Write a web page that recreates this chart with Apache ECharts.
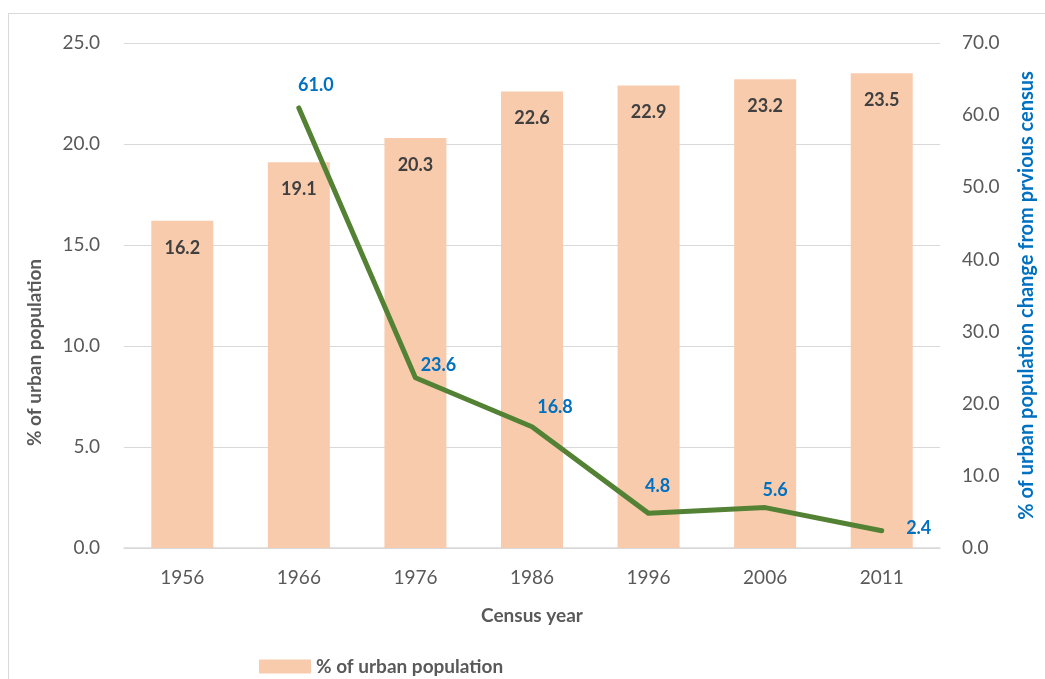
<!DOCTYPE html>
<html>
<head>
<meta charset="utf-8">
<script src="https://cdn.jsdelivr.net/npm/echarts@6/dist/echarts.min.js"></script>
<style>
  html, body { margin: 0; padding: 0; background: #fff; }
  #frame { position: absolute; left: 8px; top: 13px; width: 1100px; height: 700px; border: 1px solid #d9d9d9; }
  #chart { position: absolute; left: 0; top: 0; width: 1045px; height: 679px; }
</style>
</head>
<body>
<div id="frame"></div>
<div id="chart"></div>
<script>
var years = ['1956', '1966', '1976', '1986', '1996', '2006', '2011'];
var urbanShare = [16.2, 19.1, 20.3, 22.6, 22.9, 23.2, 23.5];
var urbanChange = [null, 61.0, 23.6, 16.8, 4.8, 5.6, 2.4];

var chart = echarts.init(document.getElementById('chart'));
var font = 'Lato, "Open Sans", sans-serif';

// label nudges for the line labels, as in the original layout
var lineLabelOffsets = [[0, 0], [17, -8], [23, 2], [23, -5], [9, -13], [10, -3], [37, 12]];

var option = {
  textStyle: { fontFamily: font },
  grid: { left: 124, right: 101, top: 43, bottom: 131 },
  legend: {
    data: ['% of urban population'],
    left: 254,
    top: 652,
    itemWidth: 52,
    itemHeight: 14,
    itemGap: 6,
    icon: 'rect',
    textStyle: { fontSize: 19, fontWeight: 'bold', color: '#595959', fontFamily: font }
  },
  xAxis: {
    type: 'category',
    data: years,
    name: 'Census year',
    nameLocation: 'middle',
    nameGap: 58,
    nameTextStyle: { fontSize: 19, fontWeight: 'bold', color: '#595959' },
    axisLine: { lineStyle: { color: '#d9d9d9', width: 1.5 } },
    axisTick: { show: false },
    axisLabel: { fontSize: 19, color: '#595959', margin: 20 }
  },
  yAxis: [
    {
      type: 'value',
      min: 0, max: 25, interval: 5,
      name: '% of urban population',
      nameLocation: 'middle',
      nameRotate: 90,
      nameGap: 80,
      nameTextStyle: { fontSize: 19, fontWeight: 'bold', color: '#595959', padding: [0, 114, 0, 0] },
      axisLabel: { fontSize: 19, color: '#595959', margin: 24, formatter: function (v) { return v.toFixed(1); } },
      splitLine: { lineStyle: { color: '#d9d9d9' } },
      axisLine: { show: false },
      axisTick: { show: false }
    },
    {
      type: 'value',
      min: 0, max: 70, interval: 10,
      name: '% of urban population change from prvious census',
      nameLocation: 'middle',
      nameRotate: 90,
      nameGap: 77,
      nameTextStyle: { fontSize: 20, fontWeight: 'bold', color: '#0070C0' },
      axisLabel: { fontSize: 19, color: '#595959', margin: 22, formatter: function (v) { return v.toFixed(1); } },
      splitLine: { show: false },
      axisLine: { show: false },
      axisTick: { show: false }
    }
  ],
  series: [
    {
      name: '% of urban population',
      type: 'bar',
      data: urbanShare,
      barWidth: 62,
      itemStyle: { color: '#F8CBAD' },
      label: {
        show: true,
        position: 'insideTop',
        distance: 18,
        fontSize: 18,
        fontWeight: 'bold',
        color: '#404040',
        formatter: function (p) { return p.value.toFixed(1); }
      }
    },
    {
      name: 'change',
      type: 'line',
      yAxisIndex: 1,
      data: urbanChange.map(function (v, i) {
        return { value: v, label: { offset: lineLabelOffsets[i] } };
      }),
      symbol: 'circle',
      symbolSize: 1,
      lineStyle: { color: '#548235', width: 5, cap: 'round', join: 'round' },
      itemStyle: { color: '#548235' },
      label: {
        show: true,
        position: 'top',
        fontSize: 18,
        fontWeight: 'bold',
        color: '#0070C0',
        formatter: function (p) { return p.value == null ? '' : p.value.toFixed(1); }
      }
    }
  ]
};
chart.setOption(option);
</script>
</body>
</html>
